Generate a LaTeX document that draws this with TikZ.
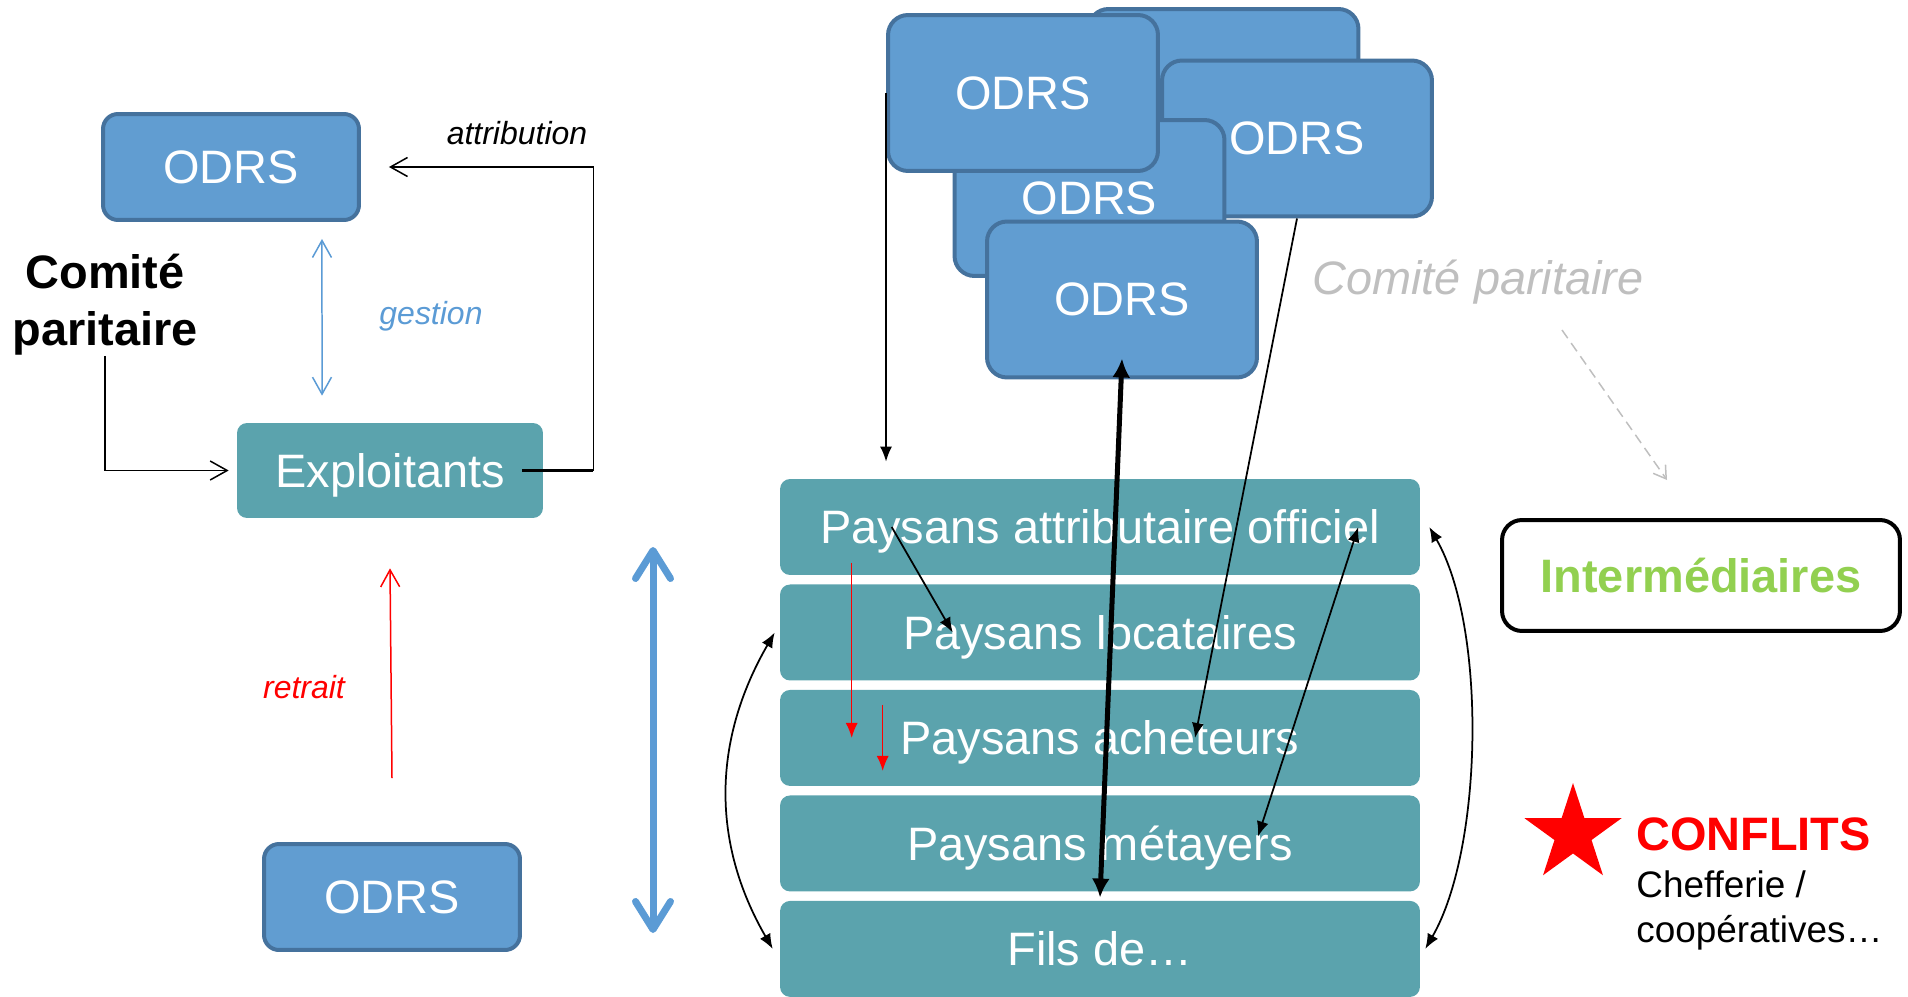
\documentclass[tikz,border=0pt]{standalone}
\usepackage{fontspec}
\setmainfont{Liberation Sans}
\usetikzlibrary{shapes.geometric, arrows.meta}

\definecolor{odrsblue}{RGB}{97,157,209}
\definecolor{odrsline}{RGB}{69,114,157}
\definecolor{paysteal}{RGB}{91,163,173}
\definecolor{interlime}{RGB}{146,208,80}
\definecolor{gestblue}{RGB}{91,155,213}
\definecolor{lightgrey}{RGB}{191,191,191}

\newcommand{\bigfont}{\fontsize{26.7}{32.4}\selectfont}
\newcommand{\labelfont}{\fontsize{18.2}{22}\selectfont}
\newcommand{\notefont}{\fontsize{21}{25.6}\selectfont}

\tikzstyle{odrs} = [rectangle, rounded corners=0.3cm, minimum width=5.12cm, minimum height=2.12cm, text centered, text depth=0pt, draw=odrsline, line width=0.08cm, fill=odrsblue, text=white, font=\bigfont]
\tikzstyle{odrsstack} = [odrs, rounded corners=0.4cm, minimum width=5.4cm, minimum height=3.12cm]
\tikzstyle{paysans} = [rectangle, rounded corners=0.2cm, minimum width=12.8cm, minimum height=1.92cm, text centered, text depth=0pt, fill=paysteal, text=white, font=\bigfont]
\tikzstyle{interbox} = [rectangle, rounded corners=0.4cm, minimum width=7.96cm, minimum height=2.22cm, text centered, text depth=0pt, draw=black, line width=0.08cm, fill=white, text=interlime, font=\bigfont\bfseries]
\tikzstyle{note} = [inner sep=0pt, text depth=0pt, font=\labelfont\itshape]
\tikzstyle{arrow} = [->, >={Latex[length=0.3cm, width=0.24cm]}, line width=0.035cm]
\tikzstyle{openarrow} = [->, >={Straight Barb[length=0.34cm, width=0.38cm]}, line width=0.03cm]
\tikzstyle{bigarrow} = [<->, >={Straight Barb[length=0.56cm, width=0.7cm, round]}, line width=0.14cm, draw=gestblue, line cap=round]
\tikzstyle{thickarrow} = [<->, >={Latex[length=0.38cm, width=0.36cm]}, line width=0.1cm]
\tikzstyle{greyarrow} = [->, >={Straight Barb[length=0.24cm, width=0.3cm]}, line width=0.03cm, draw=lightgrey, dash pattern=on 0.2cm off 0.12cm]

\begin{document}
\begin{tikzpicture}[x=0.02cm, y=-0.02cm, node distance=2.11cm]
    \useasboundingbox (0,0) rectangle (1908,997);
    % Nodes
    \node (odrs1) [odrs] at (231,167) {ODRS};
    \node (comite) [inner sep=0pt, align=center, font=\bigfont\bfseries] at (105,305) {Comité\\paritaire};
    \node (exploit) [paysans, minimum width=6.12cm, minimum height=1.9cm] at (390,470.5) {Exploitants};
    \node (odrs3) [odrs] at (392,897) {ODRS};
    \node (attrib) [note] at (517,133) {attribution};
    \node (gestion) [note, text=gestblue] at (431,313) {gestion};
    \node (retrait) [note, text=red] at (304,687) {retrait};

    \node (odrsB) [odrsstack] at (1223.5,87) {};
    \node (odrsC) [odrsstack] at (1297,138.5) {ODRS};
    \node (odrsD) [odrsstack] at (1089.5,198) {ODRS};
    \node (odrsA) [odrsstack] at (1023,93) {ODRS};
    \node (odrsE) [odrsstack] at (1122,299.5) {ODRS};
    \node (comite2) [note, font=\bigfont\itshape, text=lightgrey] at (1478,277) {Comité paritaire};

    \node (p1) [paysans] at (1100,527) {Paysans attributaire officiel};
    \node (p2) [paysans, below of=p1] {Paysans locataires};
    \node (p3) [paysans, below of=p2] {Paysans acheteurs};
    \node (p4) [paysans, below of=p3] {Paysans métayers};
    \node (p5) [paysans, below of=p4] {Fils de…};

    \node (inter) [interbox] at (1701,575.5) {Intermédiaires};
    \node (star) [star, star points=5, star point ratio=2.618, minimum size=2.04cm, inner sep=0pt, fill=red] at (1573,834) {};
    \node (conflits) [anchor=base west, inner sep=0pt, font=\bigfont\bfseries, text=red] at (1636,850) {CONFLITS};
    \node (chef) [anchor=base west, inner sep=0pt, align=left, font=\notefont] at (1636,942) {Chefferie /\\coopératives…};
    \coordinate (bluetop) at (653,547);
    \coordinate (bluebot) at (653,933);

    % Arrows
    \draw [openarrow, shorten >=0.16cm] (comite.south) |- (exploit.west);
    \draw [openarrow, shorten >=0.56cm] ([xshift=-0.42cm]exploit.east) -- ++(71,0) |- (odrs1.east);
    \draw [line width=0.06cm] ([xshift=-0.42cm]exploit.east) -- ++(71,0);
    \draw [openarrow, <->, draw=gestblue] ([xshift=1.82cm, yshift=-0.34cm]odrs1.south) -- ([xshift=-1.36cm, yshift=0.54cm]exploit.north);
    \draw [openarrow, draw=red] ([yshift=1.28cm]odrs3.north) -- ([yshift=-1cm]exploit.south);
    \draw [bigarrow] (bluetop) -- (bluebot);
    \draw [arrow] (odrsA.west) -- ([yshift=0.34cm]odrsA.west |- p1.north);
    \draw [arrow] (odrsC.south) -- ([xshift=1.9cm]p3.center);
    \draw [thickarrow] ([yshift=0.06cm]p5.north) -- ([yshift=0.42cm]odrsE.south);
    \draw [arrow, red, line width=0.03cm] ([xshift=1.44cm, yshift=-0.72cm]p1.west) -- ([xshift=1.44cm]p3.west);
    \draw [arrow, red, line width=0.03cm] ([xshift=2.06cm, yshift=0.66cm]p3.west) -- ([xshift=2.06cm, yshift=-0.66cm]p3.west);
    \draw [arrow] ([xshift=2.24cm]p1.west) -- ([xshift=3.46cm]p2.west);
    \draw [arrow, <->] ([xshift=-1.24cm]p1.east) -- ([xshift=3.16cm, yshift=0.14cm]p4.center);
    \draw [arrow, <->] ([xshift=-0.1cm]p2.west) to[out=240, in=120] ([xshift=-0.14cm]p5.west);
    \draw [arrow, <->] ([xshift=0.18cm]p1.east) to[out=-60, in=60, looseness=0.7] ([xshift=0.1cm]p5.east);
    \draw [greyarrow] ([xshift=1.68cm, yshift=-1.06cm]comite2.center) -- ([xshift=-0.68cm, yshift=0.76cm]inter.north);
\end{tikzpicture}
\end{document}
